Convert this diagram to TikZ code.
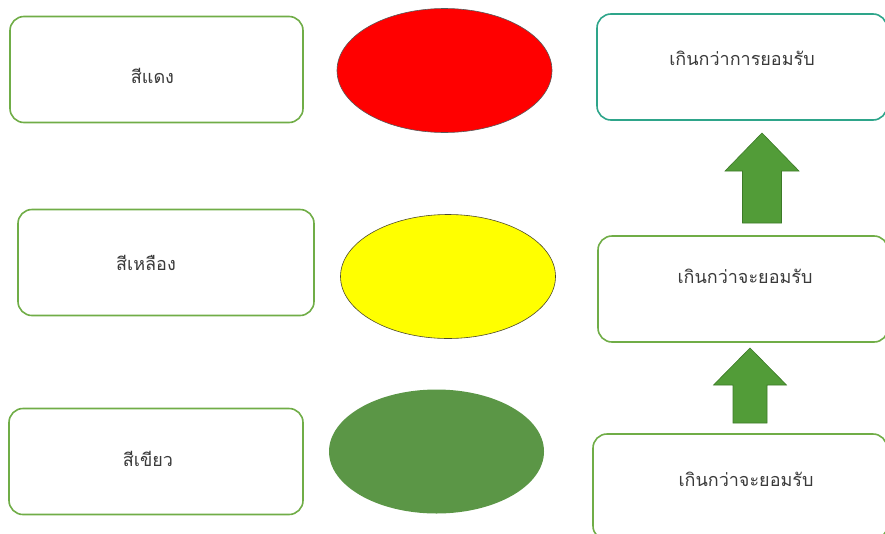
\documentclass[tikz,border=0pt]{standalone}
\usepackage{fontspec}
\newfontfamily\thaifont[Script=Thai]{Loma}
\usepackage{tikz}
\usetikzlibrary{shapes.geometric}
\definecolor{boxgreen}{HTML}{70AD47}
\definecolor{boxteal}{HTML}{2EA58A}
\definecolor{arrowfill}{HTML}{529C38}
\definecolor{arrowline}{HTML}{3C7A27}
\definecolor{lampred}{HTML}{FF0000}
\definecolor{lampyellow}{HTML}{FFFF00}
\definecolor{lampgreen}{HTML}{5B9646}
\definecolor{textgray}{HTML}{3A3A3A}

\begin{document}
\begin{tikzpicture}[x=1pt, y=-1pt,
  levelbox/.style={draw=boxgreen, line width=1.6pt, rounded corners=14pt, fill=white,
    minimum width=#1, minimum height=106pt, inner sep=0pt},
  lamp/.style={ellipse, minimum width=215pt, minimum height=124pt, inner sep=0pt},
  thaitext/.style={font=\thaifont\fontsize{18}{22}\selectfont, text=textgray}]
  \useasboundingbox (0,0) rectangle (885,533);
  \clip (0,0) rectangle (885,533);
  % colours, left column
  \node[levelbox=293pt, label={[thaitext, xshift=-4pt, yshift=-6pt]center:สีแดง}] (red) at (156.5,69.5) {};
  \node[levelbox=296pt, label={[thaitext, xshift=-20pt, yshift=0pt]center:สีเหลือง}] (yellow) at (166,262.5) {};
  \node[levelbox=294pt, label={[thaitext, xshift=-8pt, yshift=3pt]center:สีเขียว}] (green) at (156,461.5) {};
  % lamps, middle column
  \node[lamp, fill=lampred, draw=black!65, line width=0.6pt] (redlamp) at (444.5,70.5) {};
  \node[lamp, fill=lampyellow, draw=black!60!olive, line width=0.6pt] (yellowlamp) at (448,276.5) {};
  \node[lamp, fill=lampgreen] (greenlamp) at (436.5,451.5) {};
  % levels, right column
  \node[levelbox=290pt, draw=boxteal, label={[thaitext, xshift=0pt, yshift=9pt]center:เกินกว่าการยอมรับ}] (over) at (742,67) {};
  \node[levelbox=290pt, label={[thaitext, xshift=2pt, yshift=13pt]center:เกินกว่าจะยอมรับ}] (near) at (743,289) {};
  \node[levelbox=294pt, label={[thaitext, xshift=6pt, yshift=8pt]center:เกินกว่าจะยอมรับ}] (low) at (740,487) {};
  % block arrows: tip x / tip y / head base / head half width / shaft half width / bottom
  \foreach \tx/\ty/\hb/\hw/\sw/\bt in {762/133/171/37/19.5/223, 750/348/385/36.5/17/423} {
    \filldraw[fill=arrowfill, draw=arrowline, line width=0.6pt]
      (\tx,\ty) -- (\tx+\hw,\hb) -- (\tx+\sw,\hb) -- (\tx+\sw,\bt)
      -- (\tx-\sw,\bt) -- (\tx-\sw,\hb) -- (\tx-\hw,\hb) -- cycle;
  }
\end{tikzpicture}
\end{document}
